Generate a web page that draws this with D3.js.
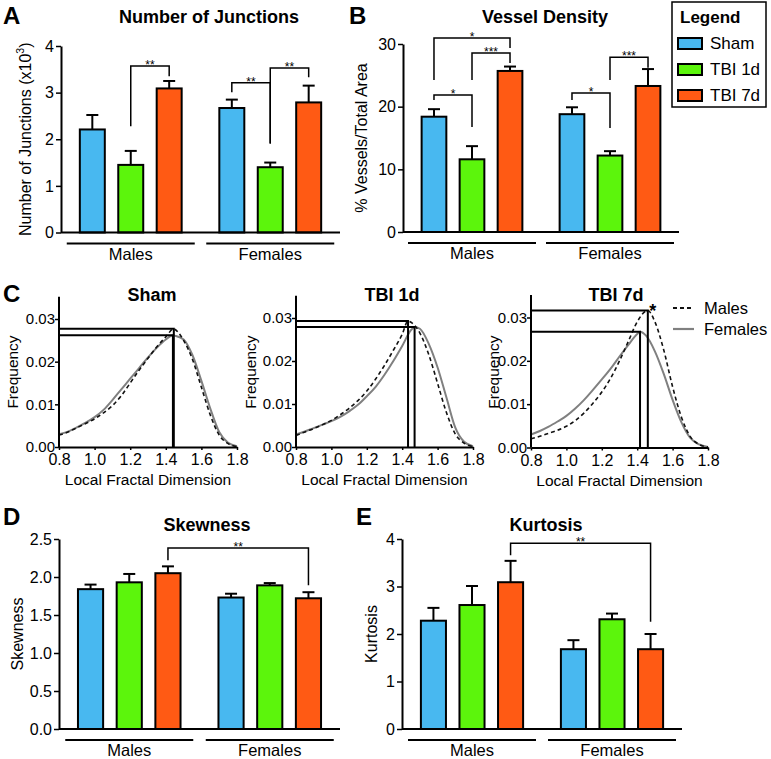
<!DOCTYPE html>
<html><head><meta charset="utf-8">
<script src="https://cdn.jsdelivr.net/npm/d3@7"></script>
<style>
body{margin:0;background:#fff;}
svg{display:block;font-family:"Liberation Sans",Arial,sans-serif;}
</style></head>
<body><svg id="chart" width="771" height="759"></svg>
<script>
// ---------------- DATA ----------------
const groups = ["Males", "Females"];
const treatments = ["Sham", "TBI 1d", "TBI 7d"];
const treatmentColors = ["#48B8F0", "#5CF50C", "#FF5A14"];

// order: Males Sham, Males TBI1d, Males TBI7d, Females Sham, Females TBI1d, Females TBI7d
const junctionsMean = [2.21, 1.45, 3.09, 2.67, 1.40, 2.79];
const junctionsSem  = [0.31, 0.30, 0.16, 0.18, 0.10, 0.36];
const junctionsTicks = [0, 1, 2, 3, 4];

const densityMean = [18.4, 11.6, 25.7, 18.8, 12.2, 23.3];
const densitySem  = [1.2, 2.1, 0.7, 1.1, 0.7, 2.7];
const densityTicks = [0, 10, 20, 30];

const skewMean = [1.84, 1.93, 2.05, 1.73, 1.89, 1.72];
const skewSem  = [0.06, 0.11, 0.09, 0.05, 0.03, 0.08];
const skewTicks = [0, 0.5, 1.0, 1.5, 2.0, 2.5];

const kurtMean = [2.28, 2.61, 3.09, 1.68, 2.31, 1.68];
const kurtSem  = [0.27, 0.40, 0.45, 0.19, 0.12, 0.32];
const kurtTicks = [0, 1, 2, 3, 4];

// significance brackets: [from bar, to bar, bracket level, left end, right end, label]
const junctionsSig = [[1, 2, 3.57, 2.28, 3.35, "**"], [3, 4, 3.21, 3.01, 1.91, "**"], [4, 5, 3.53, 1.91, 3.33, "**"]];
const densitySig = [[0, 2, 30.96, 24.25, 29.36, "*"], [1, 2, 28.56, 24.25, 26.97, "***"], [0, 1, 21.86, 21.06, 16.75, "*"],
                    [3, 4, 22.18, 21.06, 16.6, "*"], [4, 5, 27.9, 24.25, 26.2, "***"]];
const skewSig = [[2, 5, 2.38, 2.22, 1.89, "**"]];
const kurtSig = [[2, 5, 3.91, 3.66, 2.26, "**"]];

// fractal dimension distributions
const fdGrid = [0.80, 0.85, 0.90, 0.95, 1.00, 1.05, 1.10, 1.15, 1.20, 1.25, 1.30, 1.35, 1.40, 1.45, 1.50, 1.55, 1.60, 1.65, 1.70, 1.75, 1.80];
const shamMales     = [0.0028, 0.0035, 0.0045, 0.0055, 0.0066, 0.0080, 0.0097, 0.0120, 0.0150, 0.0180, 0.0208, 0.0235, 0.0258, 0.0276, 0.0250, 0.0205, 0.0140, 0.0075, 0.0028, 0.0008, 0.0001];
const shamFemales   = [0.0030, 0.0036, 0.0046, 0.0057, 0.0070, 0.0087, 0.0110, 0.0135, 0.0160, 0.0185, 0.0210, 0.0233, 0.0252, 0.0261, 0.0252, 0.0215, 0.0155, 0.0090, 0.0035, 0.0010, 0.0002];
const tbi1dMales    = [0.0027, 0.0035, 0.0043, 0.0052, 0.0062, 0.0075, 0.0090, 0.0108, 0.0130, 0.0158, 0.0190, 0.0225, 0.0262, 0.0290, 0.0265, 0.0215, 0.0148, 0.0080, 0.0030, 0.0009, 0.0001];
const tbi1dFemales  = [0.0029, 0.0036, 0.0044, 0.0052, 0.0060, 0.0070, 0.0083, 0.0098, 0.0118, 0.0140, 0.0168, 0.0200, 0.0235, 0.0272, 0.0275, 0.0240, 0.0185, 0.0115, 0.0045, 0.0012, 0.0002];
const tbi7dMales    = [0.0020, 0.0026, 0.0033, 0.0040, 0.0049, 0.0062, 0.0080, 0.0102, 0.0128, 0.0160, 0.0200, 0.0245, 0.0290, 0.0315, 0.0290, 0.0225, 0.0140, 0.0070, 0.0025, 0.0007, 0.0001];
const tbi7dFemales  = [0.0030, 0.0038, 0.0048, 0.0060, 0.0073, 0.0090, 0.0110, 0.0133, 0.0157, 0.0182, 0.0210, 0.0237, 0.0262, 0.0258, 0.0222, 0.0170, 0.0110, 0.0058, 0.0022, 0.0007, 0.0001];
// peaks [x, frequency] : males, females
const shamPeaks  = [[1.445, 0.0277], [1.440, 0.0262]];
const tbi1dPeaks = [[1.433, 0.0293], [1.470, 0.0279]];
const tbi7dPeaks = [[1.460, 0.0316], [1.416, 0.0267]];
const fdTicksX = [0.8, 1.0, 1.2, 1.4, 1.6, 1.8];
const fdTicksY = [0, 0.01, 0.02, 0.03];

// ---------------- DRAW ----------------
const svg = d3.select("#chart");
const FONT = "\"Liberation Sans\",Arial,sans-serif";

function text(x, y, s, opts = {}) {
  const t = svg.append("text").attr("x", x).attr("y", y).text(s)
    .attr("font-size", opts.size || 14).attr("font-weight", opts.bold ? "bold" : "normal")
    .attr("text-anchor", opts.anchor || "middle").attr("fill", opts.fill || "#000");
  if (opts.rotate) t.attr("transform", `rotate(-90,${x},${y})`);
  return t;
}

function styleAxis(g, fs) {
  g.select(".domain").attr("stroke", "#000").attr("stroke-width", 2);
  g.selectAll(".tick line").attr("stroke", "#000").attr("stroke-width", 1.5);
  g.selectAll(".tick text").attr("font-size", fs).attr("font-family", FONT).attr("fill", "#000");
}

function barPanel(cfg) {
  const x0 = d3.scaleBand().domain(groups).range([cfg.left, cfg.right]);
  const x1 = d3.scaleBand().domain(treatments).range([0, x0.bandwidth()]).paddingInner(0.35).paddingOuter(0.49);
  const y = d3.scaleLinear().domain([0, cfg.max]).range([cfg.bottom, cfg.top]);
  const cx = i => x0(groups[Math.floor(i / 3)]) + x1(treatments[i % 3]) + x1.bandwidth() / 2;

  const data = cfg.mean.map((m, i) => ({ m, s: cfg.sem[i], i }));
  const g = svg.append("g");
  data.forEach(d => {
    const xc = cx(d.i);
    g.append("line").attr("x1", xc).attr("x2", xc).attr("y1", y(d.m)).attr("y2", y(d.m + d.s)).attr("stroke", "#000").attr("stroke-width", 2);
    g.append("line").attr("x1", xc - 6).attr("x2", xc + 6).attr("y1", y(d.m + d.s)).attr("y2", y(d.m + d.s)).attr("stroke", "#000").attr("stroke-width", 2);
  });
  g.selectAll("rect.bar").data(data).enter().append("rect")
    .attr("x", d => cx(d.i) - x1.bandwidth() / 2).attr("width", x1.bandwidth())
    .attr("y", d => y(d.m)).attr("height", d => y(0) - y(d.m))
    .attr("fill", d => treatmentColors[d.i % 3]).attr("stroke", "#000").attr("stroke-width", 2);
  const ax = svg.append("g").attr("transform", `translate(${cfg.left},0)`)
    .call(d3.axisLeft(y).tickValues(cfg.ticks).tickFormat(cfg.fmt).tickSize(5).tickSizeOuter(0).tickPadding(2));
  styleAxis(ax, 16);
  svg.append("line").attr("x1", cfg.left).attr("x2", cfg.right).attr("y1", y(0)).attr("y2", y(0)).attr("stroke", "#000").attr("stroke-width", 2);
  groups.forEach(gr => {
    const c = x0(gr) + x0.bandwidth() / 2;
    svg.append("line").attr("x1", c - 64).attr("x2", c + 64).attr("y1", y(0) + 11).attr("y2", y(0) + 11).attr("stroke", "#000").attr("stroke-width", 2);
    text(c, y(0) + 27, gr, { size: 16.5 });
  });
  cfg.sig.forEach(([a, b, h, la, lb, lab]) => {
    const xa = cx(a), xb = cx(b);
    svg.append("path").attr("d", `M${xa},${y(la)}V${y(h)}H${xb}V${y(lb)}`).attr("fill", "none").attr("stroke", "#000").attr("stroke-width", 1.5);
    text((xa + xb) / 2, y(h) + 3, lab, { size: 12 });
  });
  text(cfg.titleX, cfg.titleY, cfg.title, { size: 18, bold: true });
  const yl = text(cfg.ylabX, (cfg.top + cfg.bottom) / 2, "", { size: 16, rotate: true });
  if (cfg.ylabSup) {
    yl.append("tspan").text(cfg.ylab);
    yl.append("tspan").text(cfg.ylabSup).attr("font-size", 10.5).attr("dy", -7);
    yl.append("tspan").text(")").attr("dy", 7);
  } else yl.text(cfg.ylab);
}

function curvePanel(cfg) {
  const x = d3.scaleLinear().domain([0.8, 1.8]).range([cfg.left, cfg.right]);
  const y = d3.scaleLinear().domain([0, 0.03]).range([cfg.bottom, cfg.top]);
  const series = [
    { v: cfg.males, p: cfg.peaks[0], stroke: "#111", dash: "4,3", w: 1.6 },
    { v: cfg.females, p: cfg.peaks[1], stroke: "#808080", dash: null, w: 2 }
  ];
  const line = d3.line().x(d => x(d[0])).y(d => y(d[1])).curve(d3.curveMonotoneX);
  series.slice().reverse().forEach(s => {
    const pts = fdGrid.map((g, i) => [g, s.v[i]]).concat([s.p]).sort((a, b) => a[0] - b[0]);
    svg.append("path").attr("d", line(pts)).attr("fill", "none").attr("stroke", s.stroke)
      .attr("stroke-width", s.w).attr("stroke-dasharray", s.dash);
  });
  series.forEach(s => {
    svg.append("path").attr("d", `M${cfg.left},${y(s.p[1])}H${x(s.p[0])}V${y(0)}`)
      .attr("fill", "none").attr("stroke", "#000").attr("stroke-width", 2);
  });
  const ay = svg.append("g").attr("transform", `translate(${cfg.left},0)`)
    .call(d3.axisLeft(y).tickValues(fdTicksY).tickFormat(d3.format(".2f")).tickSize(4).tickSizeOuter(0).tickPadding(0));
  ay.select(".domain").remove();
  styleAxis(ay, 15);
  svg.append("line").attr("x1", cfg.left).attr("x2", cfg.left).attr("y1", y(0)).attr("y2", y(0.0352)).attr("stroke", "#000").attr("stroke-width", 2);
  const ax = svg.append("g").attr("transform", `translate(0,${y(0)})`)
    .call(d3.axisBottom(x).tickValues(fdTicksX).tickFormat(d3.format(".1f")).tickSize(3).tickSizeOuter(0).tickPadding(4));
  styleAxis(ax, 16);
  text((cfg.left + cfg.right) / 2, y(0) + 38, "Local Fractal Dimension", { size: 15.5 });
  text(cfg.ylabX, 372, "Frequency", { size: 15.5, rotate: true });
  text(cfg.titleX, 301, cfg.title, { size: 18, bold: true });
  if (cfg.star) text(x(cfg.peaks[0][0]) + 5, y(cfg.peaks[0][1]) + 6, "*", { size: 18, bold: true });
}

// Panel A
barPanel({ left: 61, right: 340, bottom: 232.5, top: 46, max: 4, ticks: junctionsTicks, fmt: d3.format("d"),
  mean: junctionsMean, sem: junctionsSem, sig: junctionsSig, title: "Number of Junctions", titleX: 209, titleY: 23,
  ylab: "Number of Junctions (x10", ylabSup: "3", ylabX: 31 });
// Panel B
barPanel({ left: 403, right: 679, bottom: 232, top: 44, max: 30, ticks: densityTicks, fmt: d3.format("d"),
  mean: densityMean, sem: densitySem, sig: densitySig, title: "Vessel Density", titleX: 545, titleY: 23,
  ylab: "% Vessels/Total Area", ylabX: 367 });
// Panel D
barPanel({ left: 59, right: 340, bottom: 729, top: 539, max: 2.5, ticks: skewTicks, fmt: d3.format(".1f"),
  mean: skewMean, sem: skewSem, sig: skewSig, title: "Skewness", titleX: 207, titleY: 531,
  ylab: "Skewness", ylabX: 23 });
// Panel E
barPanel({ left: 402, right: 682, bottom: 729, top: 539, max: 4, ticks: kurtTicks, fmt: d3.format("d"),
  mean: kurtMean, sem: kurtSem, sig: kurtSig, title: "Kurtosis", titleX: 546, titleY: 531,
  ylab: "Kurtosis", ylabX: 377 });

// Panel C
curvePanel({ left: 59, right: 237, bottom: 447, top: 319, males: shamMales, females: shamFemales, peaks: shamPeaks, title: "Sham", titleX: 152, ylabX: 18 });
curvePanel({ left: 296, right: 473, bottom: 447, top: 318, males: tbi1dMales, females: tbi1dFemales, peaks: tbi1dPeaks, title: "TBI 1d", titleX: 392, ylabX: 256 });
curvePanel({ left: 531, right: 708, bottom: 447.5, top: 317.5, males: tbi7dMales, females: tbi7dFemales, peaks: tbi7dPeaks, title: "TBI 7d", titleX: 616, ylabX: 499, star: true });

// Legend C
svg.append("line").attr("x1", 673).attr("x2", 694).attr("y1", 308).attr("y2", 308).attr("stroke", "#111").attr("stroke-width", 1.8).attr("stroke-dasharray", "4,3");
text(704, 314, "Males", { size: 16.5, anchor: "start" });
svg.append("line").attr("x1", 673).attr("x2", 694).attr("y1", 329).attr("y2", 329).attr("stroke", "#808080").attr("stroke-width", 2.2);
text(704, 335, "Females", { size: 16.5, anchor: "start" });

// Legend A/B
svg.append("rect").attr("x", 672).attr("y", 2).attr("width", 94).attr("height", 105).attr("fill", "#fff").attr("stroke", "#000").attr("stroke-width", 1.5);
text(680, 23, "Legend", { size: 17, bold: true, anchor: "start" });
treatments.forEach((t, i) => {
  const yy = [43, 69, 95][i];
  svg.append("rect").attr("x", 678).attr("y", yy - 5).attr("width", 24).attr("height", 11).attr("fill", treatmentColors[i]).attr("stroke", "#000").attr("stroke-width", 2);
  text(710, yy + 6, t, { size: 17, anchor: "start" });
});

// Panel letters
[["A", 3, 24], ["B", 349, 24], ["C", 3, 302], ["D", 3, 525], ["E", 356, 525]].forEach(([l, x, y]) =>
  text(x, y, l, { size: 24, bold: true, anchor: "start" }));
</script></body></html>
